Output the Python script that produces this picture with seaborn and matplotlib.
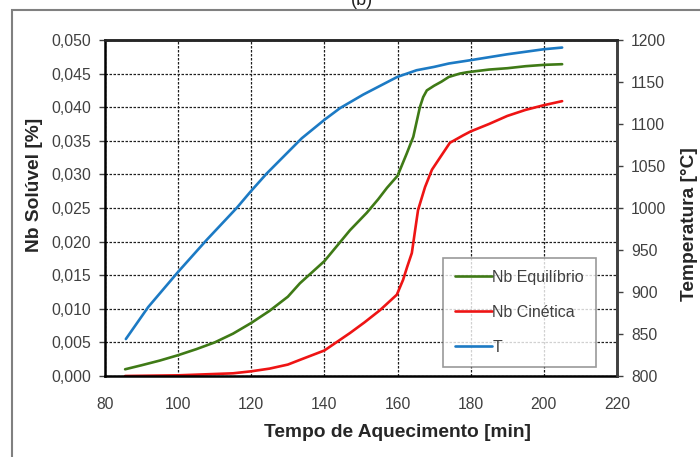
import matplotlib
matplotlib.use('Agg')
import matplotlib.pyplot as plt
from matplotlib.patches import Rectangle
import seaborn as sns
import pandas as pd

# data
tempo_eq = [85.5, 90, 95, 100, 105, 110, 115, 120, 125, 130, 133.3, 140, 147, 151.6,
            154.7, 157.1, 160, 162.5, 164.3, 166.1, 167, 168, 170, 172, 174, 177,
            179, 185, 190, 195, 200, 205]
nb_eq = [0.0010, 0.0016, 0.0023, 0.0031, 0.0040, 0.0050, 0.0063, 0.0079, 0.0097,
         0.0118, 0.0138, 0.0171, 0.0217, 0.0243, 0.0263, 0.0280, 0.0298, 0.0331,
         0.0356, 0.0400, 0.0415, 0.0425, 0.0432, 0.0438, 0.0445, 0.0450, 0.0452,
         0.0456, 0.0458, 0.0461, 0.0463, 0.0464]

tempo_cin = [85.5, 100, 110, 115, 120, 125, 130, 133.3, 140, 147, 151, 155.2, 158,
             159.8, 161.5, 162.6, 163.9, 164.8, 165.6, 167.5, 169.4, 171.6, 174.3,
             177.9, 180, 185, 190, 195, 200, 205]
nb_cin = [0.0000, 0.0001, 0.0003, 0.0004, 0.0007, 0.0011, 0.0017, 0.0024, 0.0038,
          0.0064, 0.0080, 0.0098, 0.0112, 0.0121, 0.0143, 0.0162, 0.0183, 0.0217,
          0.0247, 0.0281, 0.0307, 0.0325, 0.0347, 0.0358, 0.0364, 0.0375, 0.0387,
          0.0396, 0.0403, 0.0409]

tempo_T = [85.7, 91.8, 100, 107.8, 116, 119.7, 124.2, 133.8, 140, 144.3, 150.6,
           159.9, 165.2, 170, 174, 180, 190, 200, 205]
temp_T = [844, 882, 924, 962, 1000, 1019, 1041, 1083, 1105, 1119, 1135, 1156, 1164,
          1168, 1172, 1176, 1183, 1189, 1191]

x_ticks = [80, 100, 120, 140, 160, 180, 200, 220]
y_ticks = [0.000, 0.005, 0.010, 0.015, 0.020, 0.025, 0.030, 0.035, 0.040, 0.045, 0.050]
t_ticks = [800, 850, 900, 950, 1000, 1050, 1100, 1150, 1200]

sns.set_style('white')
plt.rcParams['font.family'] = ['Liberation Sans', 'DejaVu Sans']

df_eq = pd.DataFrame({'tempo': tempo_eq, 'nb': nb_eq})
df_cin = pd.DataFrame({'tempo': tempo_cin, 'nb': nb_cin})
df_T = pd.DataFrame({'tempo': tempo_T, 'T': temp_T})

fig = plt.figure(figsize=(7, 4.57), dpi=100)
ax = fig.add_axes([105/700, 1 - 376/457, 512/700, 336/457])
ax2 = ax.twinx()

sns.lineplot(df_eq, x='tempo', y='nb', ax=ax, color='#3f7a16', lw=1.9, label='Nb Equilíbrio', legend=False)
sns.lineplot(df_cin, x='tempo', y='nb', ax=ax, color='#ee1414', lw=1.9, label='Nb Cinética', legend=False)
sns.lineplot(df_T, x='tempo', y='T', ax=ax2, color='#1c7ac4', lw=1.9, label='T', legend=False)

ax.set_xlim(80, 220)
ax.set_ylim(0, 0.05)
ax2.set_ylim(800, 1200)
ax.set_xticks(x_ticks)
ax.set_yticks(y_ticks)
ax.set_yticklabels([f'{v:.3f}'.replace('.', ',') for v in y_ticks])
ax2.set_yticks(t_ticks)

ax.grid(True, color='#202020', lw=0.9, ls=(0, (2, 1.2)))
ax2.grid(False)

for a in (ax, ax2):
    a.tick_params(colors='#404040', labelsize=11.3, length=4, width=1)
    for s in a.spines.values():
        s.set_linewidth(1.8)
ax.spines['left'].set_color('black')
ax.spines['bottom'].set_color('black')
ax.spines['top'].set_color('#202020')
ax2.spines['right'].set_color('#404040')
ax2.spines['left'].set_visible(False)
ax2.spines['bottom'].set_visible(False)
ax.tick_params(axis='x', pad=11)
ax.tick_params(axis='y', pad=6)
ax2.tick_params(axis='y', pad=6)

ax.set_xlabel('Tempo de Aquecimento [min]', fontsize=13.8, fontweight='bold')
ax.set_ylabel('Nb Solúvel [%]', fontsize=13.8, fontweight='bold')
ax2.set_ylabel('Temperatura [°C]', fontsize=13.8, fontweight='bold')
ax.xaxis.set_label_coords((398 - 105) / 512, (376 - 424) / 336)
ax.yaxis.set_label_coords((43 - 105) / 512, (376 - 185) / 336)
ax2.yaxis.set_label_coords((681 - 105) / 512, (376 - 224) / 336)

h1, l1 = ax.get_legend_handles_labels()
h2, l2 = ax2.get_legend_handles_labels()
leg = ax2.legend(h1 + h2, l1 + l2, loc='lower right', bbox_to_anchor=(0.959, 0.027),
                 fontsize=11.5, frameon=True, fancybox=False, labelspacing=1.25,
                 handlelength=2.3, handletextpad=0.05, borderpad=0.75, borderaxespad=0)
leg.get_frame().set_edgecolor('#808080')
leg.get_frame().set_linewidth(1.2)
for txt in leg.get_texts():
    txt.set_color('#404040')

# outer frame and panel tag
fig.patches.append(Rectangle((12/700, -0.2), 1.2, 1.2 - 10/457, transform=fig.transFigure,
                             fill=False, edgecolor='#808080', lw=1.5))
fig.text(362/700, 1 - 9/457, '(b)', ha='center', va='bottom', fontsize=13, color='#202020')

plt.savefig('out.png', dpi=100)
